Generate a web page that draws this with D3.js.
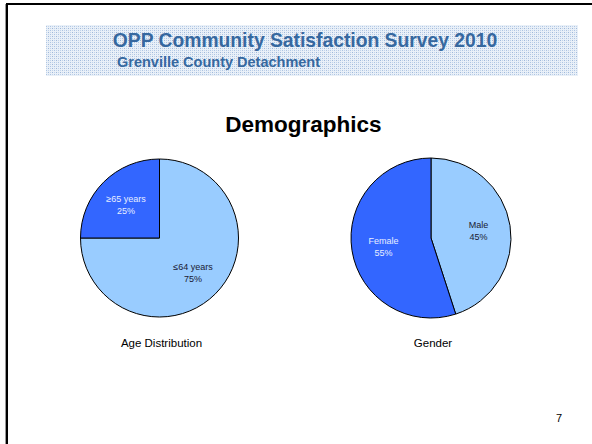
<!DOCTYPE html>
<html><head><meta charset="utf-8">
<script src="https://cdn.jsdelivr.net/npm/d3@7"></script>
<style>html,body{margin:0;padding:0;background:#fff;overflow:hidden;width:592px;height:444px}</style>
</head><body>
<script>
const ageLabels = ["≤64 years", "≥65 years"];
const ageValues = [75, 25];
const genderLabels = ["Male", "Female"];
const genderValues = [45, 55];
const sliceColors = ["#99ccff", "#3366ff"];
const textColors = ["#1a1a33", "#e8eeff"];

const W = 592, H = 444;
const FONT = "Liberation Sans, Arial, sans-serif";
const svg = d3.select("body").append("svg").attr("width", W).attr("height", H).style("display","block");
svg.append("rect").attr("width",W).attr("height",H).attr("fill","#fff");
const defs = svg.append("defs");
const pat = defs.append("pattern").attr("id","dots").attr("patternUnits","userSpaceOnUse").attr("width",4).attr("height",4);
pat.append("rect").attr("width",4).attr("height",4).attr("fill","#e9f0f8");
pat.append("rect").attr("x",0).attr("y",0).attr("width",1).attr("height",1).attr("fill","#9fb8da");
pat.append("rect").attr("x",2).attr("y",0).attr("width",1).attr("height",1).attr("fill","#c2d3ea");
pat.append("rect").attr("x",0).attr("y",2).attr("width",1).attr("height",1).attr("fill","#c2d3ea");
pat.append("rect").attr("x",2).attr("y",2).attr("width",1).attr("height",1).attr("fill","#adc4e2");

// frame (only top and left edges visible)
svg.append("line").attr("x1",6).attr("x2",W).attr("y1",4).attr("y2",4).attr("stroke","#000").attr("stroke-width",2);
svg.append("line").attr("x1",7).attr("x2",7).attr("y1",3).attr("y2",H).attr("stroke","#000").attr("stroke-width",2);
svg.append("line").attr("x1",5.5).attr("x2",5.5).attr("y1",4).attr("y2",H).attr("stroke","#999").attr("stroke-width",1);

// header
svg.append("rect").attr("x",46).attr("y",25).attr("width",532).attr("height",51).attr("fill","url(#dots)");
svg.append("text").attr("x",305).attr("y",46.5).attr("text-anchor","middle")
  .attr("font-family",FONT).attr("font-weight","bold").attr("font-size",19.3)
  .attr("fill","#36689f").text("OPP Community Satisfaction Survey 2010");
svg.append("text").attr("x",117).attr("y",67).attr("font-family",FONT)
  .attr("font-weight","bold").attr("font-size",14.5).attr("fill","#36689f").text("Grenville County Detachment");

svg.append("text").attr("x",303.5).attr("y",132).attr("text-anchor","middle")
  .attr("font-family",FONT).attr("font-weight","bold").attr("font-size",22.5)
  .attr("fill","#000").text("Demographics");

function drawPie(cx, cy, r, labels, values, title) {
  const g = svg.append("g").attr("transform", `translate(${cx},${cy})`);
  const pie = d3.pie().sort(null).value(d => d.v);
  const data = pie(labels.map((l,i)=>({l, v: values[i], i})));
  const arc = d3.arc().innerRadius(0).outerRadius(r);
  const labelArc = d3.arc().innerRadius(r*0.6).outerRadius(r*0.6);
  g.selectAll("path").data(data).enter().append("path")
    .attr("d", arc).attr("fill", d => sliceColors[d.data.i]).attr("stroke","#000").attr("stroke-width",1);
  const t = g.selectAll("text.lbl").data(data).enter().append("text")
    .attr("class","lbl")
    .attr("transform", d => `translate(${labelArc.centroid(d)})`)
    .attr("text-anchor","middle").attr("font-family",FONT).attr("font-size",9)
    .attr("fill", d => textColors[d.data.i]);
  t.append("tspan").attr("x",0).attr("y",-2).text(d => d.data.l);
  t.append("tspan").attr("x",0).attr("y",10).text(d => d.data.v + "%");
  svg.append("text").attr("x", cx + 2).attr("y", cy + 109).attr("text-anchor","middle")
    .attr("font-family",FONT).attr("font-size",11.5).attr("fill","#000").text(title);
}
drawPie(159.5, 238, 79, ageLabels, ageValues, "Age Distribution");
drawPie(431, 238, 80, genderLabels, genderValues, "Gender");

svg.append("text").attr("x",559).attr("y",422).attr("text-anchor","middle")
  .attr("font-family",FONT).attr("font-size",11).attr("fill","#000").text("7");
</script>
</body></html>
